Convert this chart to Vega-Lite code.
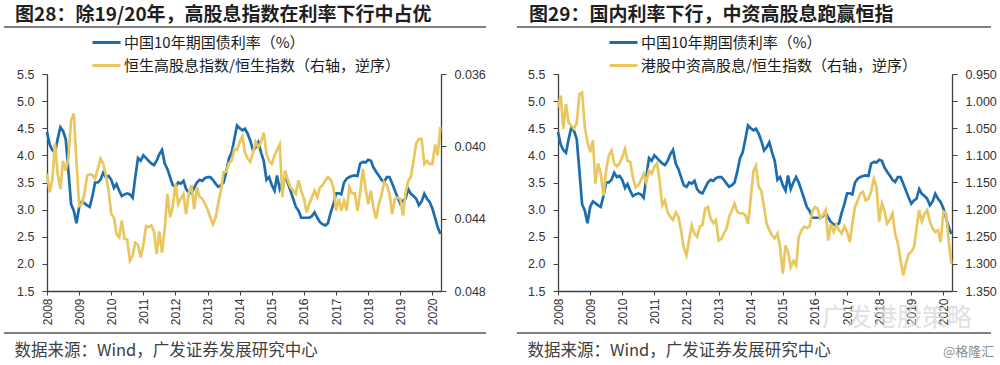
{
  "$schema": "https://vega.github.io/schema/vega-lite/v6.json",
  "background": "white",
  "padding": {"left": 3, "top": 6, "right": 0, "bottom": 0},
  "datasets": {
    "m": [
      {"d":"2008-01-01","cn":4.43,"hs":0.04152,"zz":1.011},{"d":"2008-02-01","cn":4.2,"hs":0.04254,"zz":0.99},{"d":"2008-03-01","cn":4.1,"hs":0.04185,"zz":1.051},{"d":"2008-04-01","cn":4.05,"hs":0.03984,"zz":1.005},{"d":"2008-05-01","cn":4.3,"hs":0.04152,"zz":1.04},{"d":"2008-06-01","cn":4.52,"hs":0.04236,"zz":1.045},{"d":"2008-07-01","cn":4.45,"hs":0.0408,"zz":1.051},{"d":"2008-08-01","cn":4.3,"hs":0.04134,"zz":1.04},{"d":"2008-09-01","cn":3.7,"hs":0.04065,"zz":0.987},{"d":"2008-10-01","cn":3.1,"hs":0.03855,"zz":0.984},{"d":"2008-11-01","cn":2.98,"hs":0.03819,"zz":1.048},{"d":"2008-12-01","cn":2.75,"hs":0.0408,"zz":1.075},
      {"d":"2009-01-01","cn":3.05,"hs":0.04329,"zz":1.094},{"d":"2009-02-01","cn":3.15,"hs":0.0432,"zz":1.072},{"d":"2009-03-01","cn":3.12,"hs":0.04263,"zz":1.152},{"d":"2009-04-01","cn":3.08,"hs":0.04161,"zz":1.115},{"d":"2009-05-01","cn":3.05,"hs":0.04155,"zz":1.134},{"d":"2009-06-01","cn":3.25,"hs":0.04158,"zz":1.174},{"d":"2009-07-01","cn":3.5,"hs":0.04179,"zz":1.128},{"d":"2009-08-01","cn":3.5,"hs":0.04125,"zz":1.1},{"d":"2009-09-01","cn":3.55,"hs":0.04068,"zz":1.091},{"d":"2009-10-01","cn":3.68,"hs":0.04095,"zz":1.115},{"d":"2009-11-01","cn":3.6,"hs":0.04158,"zz":1.12},{"d":"2009-12-01","cn":3.62,"hs":0.04245,"zz":1.115},
      {"d":"2010-01-01","cn":3.55,"hs":0.04374,"zz":1.103},{"d":"2010-02-01","cn":3.4,"hs":0.04395,"zz":1.088},{"d":"2010-03-01","cn":3.47,"hs":0.04485,"zz":1.11},{"d":"2010-04-01","cn":3.35,"hs":0.04503,"zz":1.112},{"d":"2010-05-01","cn":3.25,"hs":0.0441,"zz":1.14},{"d":"2010-06-01","cn":3.28,"hs":0.04512,"zz":1.159},{"d":"2010-07-01","cn":3.3,"hs":0.04515,"zz":1.155},{"d":"2010-08-01","cn":3.28,"hs":0.04632,"zz":1.146},{"d":"2010-09-01","cn":3.22,"hs":0.04605,"zz":1.134},{"d":"2010-10-01","cn":3.6,"hs":0.04533,"zz":1.15},{"d":"2010-11-01","cn":3.95,"hs":0.04545,"zz":1.128},{"d":"2010-12-01","cn":3.9,"hs":0.04614,"zz":1.134},
      {"d":"2011-01-01","cn":4.0,"hs":0.04545,"zz":1.121},{"d":"2011-02-01","cn":3.95,"hs":0.0444,"zz":1.115},{"d":"2011-03-01","cn":3.9,"hs":0.04446,"zz":1.146},{"d":"2011-04-01","cn":3.85,"hs":0.04437,"zz":1.192},{"d":"2011-05-01","cn":3.82,"hs":0.0447,"zz":1.183},{"d":"2011-06-01","cn":3.9,"hs":0.04596,"zz":1.205},{"d":"2011-07-01","cn":4.02,"hs":0.0447,"zz":1.213},{"d":"2011-08-01","cn":4.1,"hs":0.04587,"zz":1.219},{"d":"2011-09-01","cn":3.85,"hs":0.04455,"zz":1.205},{"d":"2011-10-01","cn":3.75,"hs":0.04263,"zz":1.213},{"d":"2011-11-01","cn":3.6,"hs":0.04392,"zz":1.238},{"d":"2011-12-01","cn":3.45,"hs":0.04335,"zz":1.27},
      {"d":"2012-01-01","cn":3.42,"hs":0.04206,"zz":1.284},{"d":"2012-02-01","cn":3.5,"hs":0.0432,"zz":1.254},{"d":"2012-03-01","cn":3.48,"hs":0.0429,"zz":1.229},{"d":"2012-04-01","cn":3.53,"hs":0.04263,"zz":1.244},{"d":"2012-05-01","cn":3.38,"hs":0.04374,"zz":1.25},{"d":"2012-06-01","cn":3.32,"hs":0.0426,"zz":1.231},{"d":"2012-07-01","cn":3.3,"hs":0.04215,"zz":1.228},{"d":"2012-08-01","cn":3.4,"hs":0.04347,"zz":1.198},{"d":"2012-09-01","cn":3.5,"hs":0.04227,"zz":1.195},{"d":"2012-10-01","cn":3.55,"hs":0.04278,"zz":1.216},{"d":"2012-11-01","cn":3.53,"hs":0.0429,"zz":1.225},{"d":"2012-12-01","cn":3.58,"hs":0.04317,"zz":1.219},
      {"d":"2013-01-01","cn":3.6,"hs":0.0435,"zz":1.257},{"d":"2013-02-01","cn":3.6,"hs":0.04395,"zz":1.254},{"d":"2013-03-01","cn":3.55,"hs":0.04431,"zz":1.244},{"d":"2013-04-01","cn":3.48,"hs":0.04395,"zz":1.235},{"d":"2013-05-01","cn":3.42,"hs":0.04317,"zz":1.213},{"d":"2013-06-01","cn":3.45,"hs":0.04245,"zz":1.201},{"d":"2013-07-01","cn":3.5,"hs":0.04143,"zz":1.189},{"d":"2013-08-01","cn":3.7,"hs":0.0414,"zz":1.204},{"d":"2013-09-01","cn":3.95,"hs":0.04092,"zz":1.207},{"d":"2013-10-01","cn":4.05,"hs":0.0408,"zz":1.207},{"d":"2013-11-01","cn":4.3,"hs":0.04014,"zz":1.21},{"d":"2013-12-01","cn":4.55,"hs":0.0402,"zz":1.226},
      {"d":"2014-01-01","cn":4.5,"hs":0.03975,"zz":1.18},{"d":"2014-02-01","cn":4.46,"hs":0.03945,"zz":1.128},{"d":"2014-03-01","cn":4.49,"hs":0.04035,"zz":1.119},{"d":"2014-04-01","cn":4.4,"hs":0.04068,"zz":1.158},{"d":"2014-05-01","cn":4.27,"hs":0.04086,"zz":1.165},{"d":"2014-06-01","cn":4.09,"hs":0.04035,"zz":1.195},{"d":"2014-07-01","cn":4.15,"hs":0.03975,"zz":1.226},{"d":"2014-08-01","cn":4.24,"hs":0.04005,"zz":1.238},{"d":"2014-09-01","cn":4.05,"hs":0.03975,"zz":1.247},{"d":"2014-10-01","cn":3.9,"hs":0.03924,"zz":1.253},{"d":"2014-11-01","cn":3.55,"hs":0.04041,"zz":1.244},{"d":"2014-12-01","cn":3.6,"hs":0.0408,"zz":1.269},
      {"d":"2015-01-01","cn":3.45,"hs":0.04098,"zz":1.318},{"d":"2015-02-01","cn":3.35,"hs":0.0405,"zz":1.266},{"d":"2015-03-01","cn":3.63,"hs":0.0402,"zz":1.278},{"d":"2015-04-01","cn":3.38,"hs":0.0399,"zz":1.306},{"d":"2015-05-01","cn":3.5,"hs":0.04281,"zz":1.295},{"d":"2015-06-01","cn":3.6,"hs":0.04134,"zz":1.303},{"d":"2015-07-01","cn":3.5,"hs":0.04185,"zz":1.25},{"d":"2015-08-01","cn":3.35,"hs":0.04227,"zz":1.238},{"d":"2015-09-01","cn":3.2,"hs":0.04245,"zz":1.231},{"d":"2015-10-01","cn":3.05,"hs":0.04263,"zz":1.234},{"d":"2015-11-01","cn":2.98,"hs":0.04188,"zz":1.231},{"d":"2015-12-01","cn":2.85,"hs":0.04245,"zz":1.204},
      {"d":"2016-01-01","cn":2.85,"hs":0.0429,"zz":1.195},{"d":"2016-02-01","cn":2.85,"hs":0.04365,"zz":1.198},{"d":"2016-03-01","cn":2.85,"hs":0.0432,"zz":1.216},{"d":"2016-04-01","cn":2.88,"hs":0.04281,"zz":1.21},{"d":"2016-05-01","cn":2.95,"hs":0.04245,"zz":1.201},{"d":"2016-06-01","cn":2.85,"hs":0.04281,"zz":1.257},{"d":"2016-07-01","cn":2.77,"hs":0.04227,"zz":1.226},{"d":"2016-08-01","cn":2.73,"hs":0.04215,"zz":1.241},{"d":"2016-09-01","cn":2.71,"hs":0.04188,"zz":1.228},{"d":"2016-10-01","cn":2.75,"hs":0.0417,"zz":1.238},{"d":"2016-11-01","cn":2.95,"hs":0.04185,"zz":1.244},{"d":"2016-12-01","cn":3.1,"hs":0.04227,"zz":1.231},
      {"d":"2017-01-01","cn":3.3,"hs":0.04356,"zz":1.241},{"d":"2017-02-01","cn":3.3,"hs":0.0429,"zz":1.26},{"d":"2017-03-01","cn":3.28,"hs":0.04356,"zz":1.226},{"d":"2017-04-01","cn":3.5,"hs":0.04302,"zz":1.195},{"d":"2017-05-01","cn":3.57,"hs":0.04356,"zz":1.183},{"d":"2017-06-01","cn":3.6,"hs":0.04227,"zz":1.17},{"d":"2017-07-01","cn":3.62,"hs":0.0426,"zz":1.167},{"d":"2017-08-01","cn":3.63,"hs":0.0426,"zz":1.183},{"d":"2017-09-01","cn":3.62,"hs":0.04356,"zz":1.18},{"d":"2017-10-01","cn":3.85,"hs":0.0426,"zz":1.167},{"d":"2017-11-01","cn":3.88,"hs":0.04125,"zz":1.143},{"d":"2017-12-01","cn":3.87,"hs":0.0423,"zz":1.158},
      {"d":"2018-01-01","cn":3.92,"hs":0.0432,"zz":1.222},{"d":"2018-02-01","cn":3.9,"hs":0.04245,"zz":1.189},{"d":"2018-03-01","cn":3.78,"hs":0.04338,"zz":1.201},{"d":"2018-04-01","cn":3.7,"hs":0.04401,"zz":1.226},{"d":"2018-05-01","cn":3.63,"hs":0.0432,"zz":1.219},{"d":"2018-06-01","cn":3.55,"hs":0.04272,"zz":1.207},{"d":"2018-07-01","cn":3.51,"hs":0.04197,"zz":1.244},{"d":"2018-08-01","cn":3.6,"hs":0.04215,"zz":1.262},{"d":"2018-09-01","cn":3.6,"hs":0.04263,"zz":1.293},{"d":"2018-10-01","cn":3.48,"hs":0.04374,"zz":1.321},{"d":"2018-11-01","cn":3.35,"hs":0.0429,"zz":1.3},{"d":"2018-12-01","cn":3.23,"hs":0.04284,"zz":1.282},
      {"d":"2019-01-01","cn":3.11,"hs":0.0429,"zz":1.278},{"d":"2019-02-01","cn":3.17,"hs":0.04383,"zz":1.269},{"d":"2019-03-01","cn":3.2,"hs":0.0426,"zz":1.235},{"d":"2019-04-01","cn":3.38,"hs":0.04191,"zz":1.201},{"d":"2019-05-01","cn":3.29,"hs":0.0417,"zz":1.222},{"d":"2019-06-01","cn":3.25,"hs":0.0408,"zz":1.208},{"d":"2019-07-01","cn":3.2,"hs":0.03984,"zz":1.201},{"d":"2019-08-01","cn":3.08,"hs":0.0396,"zz":1.222},{"d":"2019-09-01","cn":3.15,"hs":0.0396,"zz":1.235},{"d":"2019-10-01","cn":3.29,"hs":0.04098,"zz":1.241},{"d":"2019-11-01","cn":3.2,"hs":0.0408,"zz":1.238},{"d":"2019-12-01","cn":3.14,"hs":0.04098,"zz":1.26},
      {"d":"2020-01-01","cn":3.02,"hs":0.04098,"zz":1.204},{"d":"2020-02-01","cn":2.85,"hs":0.0399,"zz":1.207},{"d":"2020-03-01","cn":2.68,"hs":0.0405,"zz":1.256},{"d":"2020-04-01","cn":2.55,"hs":0.03894,"zz":1.3}
    ]
  },
  "spacing": 28,
  "resolve": {"scale": {"color": "independent"}, "legend": {"color": "independent"}},
  "hconcat": [
    {
      "width": 394,
      "height": 217,
      "data": {"name": "m"},
      "title": {"text": "图28：除19/20年，高股息指数在利率下行中占优", "anchor": "start", "frame": "group", "dx": -32, "offset": 1, "fontSize": 19, "fontWeight": "bold", "font": "Noto Sans CJK SC", "color": "#1f1f1f"},
      "layer": [
        {
          "mark": {"type": "line", "strokeWidth": 2.7},
          "encoding": {
            "x": {"field": "d", "type": "temporal",
              "scale": {"type": "utc", "domain": [{"year": 2008, "month": 1, "date": 1, "utc": true}, {"year": 2020, "month": 4, "date": 8, "utc": true}]},
              "axis": {"format": "%Y", "labelAngle": 270, "tickCount": {"interval": "year", "step": 1}, "labelFontSize": 12, "labelPadding": 3, "tickSize": 4, "labelFlush": false, "labelOverlap": false,
                "title": "数据来源：Wind，广发证券发展研究中心", "titleFont": "Noto Sans CJK SC", "titleFontSize": 16.5, "titleFontWeight": "normal", "titleColor": "#404040", "titleAnchor": "start", "titleAlign": "left", "titleBaseline": "middle", "titleX": -33, "titleY": 59}},
            "y": {"field": "cn", "type": "quantitative", "scale": {"domain": [1.5, 5.5]},
              "axis": {"orient": "left", "values": [1.5, 2, 2.5, 3, 3.5, 4, 4.5, 5, 5.5], "format": ".1f", "title": null}},
            "color": {"datum": "中国10年期国债利率（%）",
              "scale": {"domain": ["中国10年期国债利率（%）", "恒生高股息指数/恒生指数（右轴，逆序）"], "range": ["#1C6DAE", "#EAC75E"]},
              "legend": {"orient": "none", "legendX": 44, "legendY": -43, "direction": "vertical", "title": null, "symbolType": "stroke", "symbolSize": 784, "symbolStrokeWidth": 3, "labelFont": "Noto Sans CJK SC", "labelFontSize": 15, "labelColor": "#1a1a1a", "labelOffset": 2, "clipHeight": 23, "rowPadding": 0, "padding": 0, "labelLimit": 600}}
          }
        },
        {
          "mark": {"type": "line", "strokeWidth": 2.7},
          "encoding": {
            "x": {"field": "d", "type": "temporal"},
            "y": {"field": "hs", "type": "quantitative", "scale": {"domain": [0.036, 0.048], "reverse": true},
              "axis": {"orient": "right", "values": [0.036, 0.040, 0.044, 0.048], "format": ".3f", "title": null}},
            "color": {"datum": "恒生高股息指数/恒生指数（右轴，逆序）"}
          }
        },
        {
          "data": {"values": [{}]},
          "mark": {"type": "rule", "color": "#808080", "strokeWidth": 1.8},
          "encoding": {
            "x": {"datum": {"year": 2006, "month": 8, "date": 29, "utc": true}, "type": "temporal"},
            "x2": {"datum": {"year": 2021, "month": 9, "date": 2, "utc": true}},
            "y": {"datum": 6.366, "type": "quantitative", "scale": {"domain": [1.5, 5.5]}, "axis": null}
          }
        },
        {
          "data": {"values": [{}]},
          "mark": {"type": "rule", "color": "#808080", "strokeWidth": 1.8},
          "encoding": {
            "x": {"datum": {"year": 2006, "month": 8, "date": 29, "utc": true}, "type": "temporal"},
            "x2": {"datum": {"year": 2021, "month": 9, "date": 2, "utc": true}},
            "y": {"datum": 0.726, "type": "quantitative", "scale": {"domain": [1.5, 5.5]}, "axis": null}
          }
        }
      ],
      "resolve": {"scale": {"y": "independent"}}
    },
    {
      "width": 394,
      "height": 217,
      "data": {"name": "m"},
      "title": {"text": "图29：国内利率下行，中资高股息跑赢恒指", "anchor": "start", "frame": "group", "dx": -29, "offset": 1, "fontSize": 19, "fontWeight": "bold", "font": "Noto Sans CJK SC", "color": "#1f1f1f"},
      "layer": [
        {
          "mark": {"type": "line", "strokeWidth": 2.7},
          "encoding": {
            "x": {"field": "d", "type": "temporal",
              "scale": {"type": "utc", "domain": [{"year": 2008, "month": 1, "date": 1, "utc": true}, {"year": 2020, "month": 4, "date": 8, "utc": true}]},
              "axis": {"format": "%Y", "labelAngle": 270, "tickCount": {"interval": "year", "step": 1}, "labelFontSize": 12, "labelPadding": 3, "tickSize": 4, "labelFlush": false, "labelOverlap": false,
                "title": "数据来源：Wind，广发证券发展研究中心", "titleFont": "Noto Sans CJK SC", "titleFontSize": 16.5, "titleFontWeight": "normal", "titleColor": "#404040", "titleAnchor": "start", "titleAlign": "left", "titleBaseline": "middle", "titleX": -31, "titleY": 59}},
            "y": {"field": "cn", "type": "quantitative", "scale": {"domain": [1.5, 5.5]},
              "axis": {"orient": "left", "values": [1.5, 2, 2.5, 3, 3.5, 4, 4.5, 5, 5.5], "format": ".1f", "title": null}},
            "color": {"datum": "中国10年期国债利率（%）",
              "scale": {"domain": ["中国10年期国债利率（%）", "港股中资高股息/恒生指数（右轴，逆序）"], "range": ["#1C6DAE", "#EAC75E"]},
              "legend": {"orient": "none", "legendX": 50, "legendY": -43, "direction": "vertical", "title": null, "symbolType": "stroke", "symbolSize": 784, "symbolStrokeWidth": 3, "labelFont": "Noto Sans CJK SC", "labelFontSize": 15, "labelColor": "#1a1a1a", "labelOffset": 2, "clipHeight": 23, "rowPadding": 0, "padding": 0, "labelLimit": 600}}
          }
        },
        {
          "mark": {"type": "line", "strokeWidth": 2.7},
          "encoding": {
            "x": {"field": "d", "type": "temporal"},
            "y": {"field": "zz", "type": "quantitative", "scale": {"domain": [0.95, 1.35], "reverse": true},
              "axis": {"orient": "right", "values": [0.95, 1.0, 1.05, 1.1, 1.15, 1.2, 1.25, 1.3, 1.35], "format": ".3f", "title": null}},
            "color": {"datum": "港股中资高股息/恒生指数（右轴，逆序）"}
          }
        },
        {
          "data": {"values": [{}]},
          "mark": {"type": "rule", "color": "#808080", "strokeWidth": 1.8},
          "encoding": {
            "x": {"datum": {"year": 2006, "month": 9, "date": 20, "utc": true}, "type": "temporal"},
            "x2": {"datum": {"year": 2021, "month": 6, "date": 26, "utc": true}},
            "y": {"datum": 6.366, "type": "quantitative", "scale": {"domain": [1.5, 5.5]}, "axis": null}
          }
        },
        {
          "data": {"values": [{}]},
          "mark": {"type": "rule", "color": "#808080", "strokeWidth": 1.8},
          "encoding": {
            "x": {"datum": {"year": 2006, "month": 9, "date": 20, "utc": true}, "type": "temporal"},
            "x2": {"datum": {"year": 2021, "month": 6, "date": 26, "utc": true}},
            "y": {"datum": 0.726, "type": "quantitative", "scale": {"domain": [1.5, 5.5]}, "axis": null}
          }
        },
        {
          "data": {"values": [{}]},
          "mark": {"type": "text", "text": "广发港股策略", "font": "Noto Sans CJK SC", "fontSize": 25, "color": "#d4d4d4", "opacity": 0.7},
          "encoding": {
            "x": {"datum": {"year": 2018, "month": 7, "date": 22, "utc": true}, "type": "temporal"},
            "y": {"datum": 1.0, "type": "quantitative", "scale": {"domain": [1.5, 5.5]}, "axis": null}
          }
        },
        {
          "data": {"values": [{}]},
          "mark": {"type": "text", "text": "@格隆汇", "font": "Noto Sans CJK SC", "fontSize": 13, "color": "#8c8c8c"},
          "encoding": {
            "x": {"datum": {"year": 2020, "month": 10, "date": 15, "utc": true}, "type": "temporal"},
            "y": {"datum": 0.376, "type": "quantitative", "scale": {"domain": [1.5, 5.5]}, "axis": null}
          }
        }
      ],
      "resolve": {"scale": {"y": "independent"}}
    }
  ],
  "config": {
    "view": {"stroke": null},
    "axis": {"labelFont": "Liberation Sans", "labelFontSize": 12.5, "labelColor": "#333333", "domainColor": "#404040", "tickColor": "#404040", "domainWidth": 1.3, "tickSize": 5, "labelPadding": 8, "grid": false}
  }
}
